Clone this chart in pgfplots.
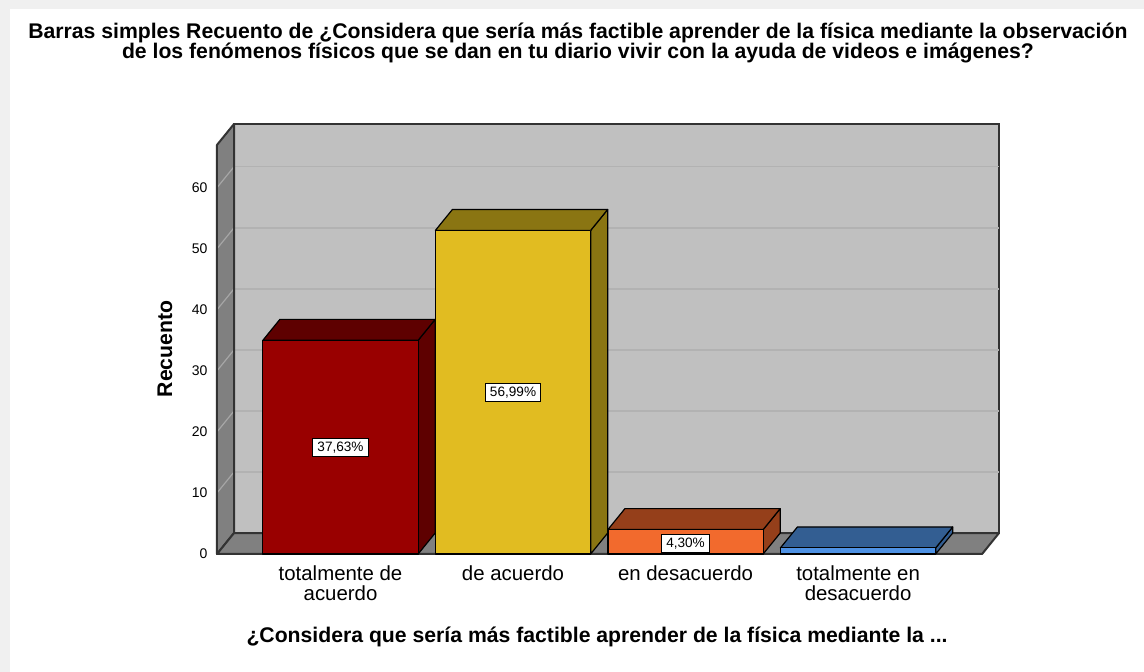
\documentclass[border=0pt]{standalone}
\usepackage{pgfplots}
\pgfplotsset{compat=1.18}
\usepackage{fontspec}
\setmainfont{Liberation Sans}
\definecolor{wallback}{HTML}{C0C0C0}
\definecolor{wallside}{HTML}{808080}
\definecolor{edgec}{HTML}{333333}
\definecolor{gridc}{HTML}{B2B2B2}
\definecolor{diagc}{HTML}{A6A6A6}
\definecolor{redF}{HTML}{990000}
\definecolor{redD}{HTML}{5E0000}
\definecolor{yelF}{HTML}{E1BC21}
\definecolor{yelD}{HTML}{8A7512}
\definecolor{oraF}{HTML}{F26A2D}
\definecolor{oraD}{HTML}{953F1A}
\definecolor{bluF}{HTML}{4F92E4}
\definecolor{bluD}{HTML}{335E92}
% 3D bar: #1 centre, #2 value, #3 front colour, #4 dark colour
\newcommand\bbar[4]{%
  \pgfmathsetmacro\xa{#1-0.45}%
  \pgfmathsetmacro\xb{#1+0.45}%
  \pgfmathsetmacro\xc{#1-0.45+0.0986}%
  \pgfmathsetmacro\xd{#1+0.45+0.0986}%
  \pgfmathsetmacro\yt{#2+3.43}%
  \addplot[fill=#4, draw=black, line width=0.6pt, line join=round] coordinates {(\xb,0) (\xd,3.43) (\xd,\yt) (\xb,#2)} -- cycle;
  \addplot[fill=#4, draw=black, line width=0.6pt, line join=round] coordinates {(\xa,#2) (\xb,#2) (\xd,\yt) (\xc,\yt)} -- cycle;
  \addplot[fill=#3, draw=black, line width=0.6pt, line join=round] coordinates {(\xa,0) (\xb,0) (\xb,#2) (\xa,#2)} -- cycle;
}
\begin{document}
\begin{tikzpicture}
\fill[black!6] (-108.5pt,-59pt) rectangle (463.5pt,277pt);
\fill[white] (-103.5pt,-59pt) rectangle (463.5pt,272.5pt);
\begin{axis}[
  scale only axis, width=391pt, height=215pt,
  xmin=-0.716, xmax=3.817, ymin=0, ymax=70.43,
  axis x line*=bottom, axis y line*=left,
  axis line style={draw=none},
  major tick length=0pt,
  xtick={0,1,2,3},
  xticklabels={{totalmente de\\acuerdo},{de acuerdo},{en desacuerdo},{totalmente en\\desacuerdo}},
  xticklabel style={align=center, font=\fontsize{10.2}{10}\selectfont, yshift=-2.2pt},
  ytick={0,10,20,30,40,50,60},
  yticklabel style={font=\fontsize{7}{8}\selectfont, xshift=-1.2pt},
  /pgf/number format/assume math mode=true,
  xlabel={¿Considera que sería más factible aprender de la física mediante la ...},
  every axis x label/.style={at={(axis description cs:0.486,0)}, anchor=center, yshift=-41.5pt, font=\bfseries\fontsize{10.6}{12}\selectfont},
  ylabel={Recuento},
  every axis y label/.style={at={(axis description cs:-0.0665,0.477)}, anchor=center, rotate=90, font=\bfseries\fontsize{10.6}{12}\selectfont},
  title={Barras simples Recuento de ¿Considera que sería más factible aprender de la física mediante la observación\\de los fenómenos físicos que se dan en tu diario vivir con la ayuda de videos e imágenes?},
  title style={at={(axis description cs:0.4616,1.160)}, anchor=center, align=center, font=\bfseries\fontsize{10.6}{10}\selectfont},
  clip=false,
]
% back wall
\addplot[fill=wallback, draw=edgec, line width=1pt] coordinates {(-0.6174,3.43) (3.817,3.43) (3.817,70.43) (-0.6174,70.43)} -- cycle;
\addplot[gridc, line width=0.75pt] coordinates {(-0.6174,13.43) (3.817,13.43)};
\addplot[gridc, line width=0.75pt] coordinates {(-0.6174,23.43) (3.817,23.43)};
\addplot[gridc, line width=0.75pt] coordinates {(-0.6174,33.43) (3.817,33.43)};
\addplot[gridc, line width=0.75pt] coordinates {(-0.6174,43.43) (3.817,43.43)};
\addplot[gridc, line width=0.75pt] coordinates {(-0.6174,53.43) (3.817,53.43)};
\addplot[gridc, line width=0.75pt] coordinates {(-0.6174,63.43) (3.817,63.43)};
% left wall
\addplot[fill=wallside, draw=none] coordinates {(-0.716,0) (-0.6174,3.43) (-0.6174,70.43) (-0.716,67)} -- cycle;
\addplot[diagc, line width=0.6pt] coordinates {(-0.716,10) (-0.6174,13.43)};
\addplot[diagc, line width=0.6pt] coordinates {(-0.716,20) (-0.6174,23.43)};
\addplot[diagc, line width=0.6pt] coordinates {(-0.716,30) (-0.6174,33.43)};
\addplot[diagc, line width=0.6pt] coordinates {(-0.716,40) (-0.6174,43.43)};
\addplot[diagc, line width=0.6pt] coordinates {(-0.716,50) (-0.6174,53.43)};
\addplot[diagc, line width=0.6pt] coordinates {(-0.716,60) (-0.6174,63.43)};
\addplot[draw=edgec, line width=1pt, line join=round] coordinates {(-0.716,0) (-0.6174,3.43) (-0.6174,70.43) (-0.716,67)} -- cycle;
% floor
\addplot[fill=wallside, draw=edgec, line width=1pt, line join=round] coordinates {(-0.716,0) (3.719,0) (3.817,3.43) (-0.6174,3.43)} -- cycle;
% bars
\bbar{0}{35}{redF}{redD}
\bbar{1}{53}{yelF}{yelD}
\bbar{2}{4}{oraF}{oraD}
\bbar{3}{1}{bluF}{bluD}
% percentage labels
\addplot[draw=none, mark=none, nodes near coords, point meta=explicit symbolic,
  nodes near coords style={anchor=center, fill=white, draw=black, line width=0.4pt,
    font=\fontsize{6.8}{7}\selectfont, inner xsep=2.3pt, inner ysep=2pt, text height=4.9pt, text depth=0.1pt}]
  coordinates {(0,17.5) [37,63\%] (1,26.5) [56,99\%] (2,1.8) [4,30\%]};
\end{axis}
\end{tikzpicture}
\end{document}
